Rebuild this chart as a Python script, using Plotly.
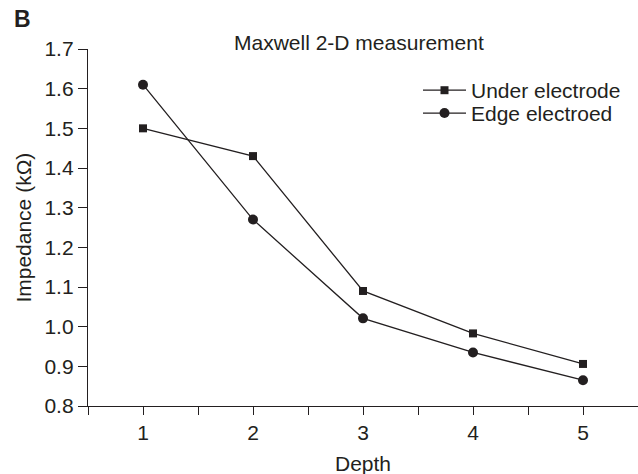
import plotly.graph_objects as go

depth = [1, 2, 3, 4, 5]
under_electrode = [1.50, 1.43, 1.09, 0.983, 0.906]
edge_electroed = [1.61, 1.27, 1.021, 0.935, 0.865]
y_ticks = [0.8, 0.9, 1.0, 1.1, 1.2, 1.3, 1.4, 1.5, 1.6, 1.7]
x_ticks = [0.5, 1, 1.5, 2, 2.5, 3, 3.5, 4, 4.5, 5, 5.5]
x_ticklabels = ["", "1", "", "2", "", "3", "", "4", "", "5", ""]

INK = "#231f20"
FONT = "Liberation Sans, Arial, sans-serif"
FS = 21

fig = go.Figure()
fig.add_trace(go.Scatter(
    x=depth, y=under_electrode, name="Under electrode", mode="lines+markers",
    line=dict(color=INK, width=1.3), marker=dict(symbol="square", size=8, color=INK),
    legend="legend"))
fig.add_trace(go.Scatter(
    x=depth, y=edge_electroed, name="Edge electroed", mode="lines+markers",
    line=dict(color=INK, width=1.3), marker=dict(symbol="circle", size=10, color=INK),
    legend="legend2"))

leg_common = dict(xanchor="left", yanchor="top", bgcolor="rgba(0,0,0,0)",
                  font=dict(size=FS), itemwidth=43)

fig.update_layout(
    width=638, height=474,
    margin=dict(l=88, r=0, t=49, b=68),
    plot_bgcolor="white", paper_bgcolor="white",
    font=dict(family=FONT, size=FS, color=INK),
    showlegend=True,
    legend=dict(x=0.6, y=0.941, **leg_common),
    legend2=dict(x=0.6, y=0.877, **leg_common),
    xaxis=dict(range=[0.5, 5.5], tickmode="array", tickvals=x_ticks, ticktext=x_ticklabels,
               ticks="outside", ticklen=8, tickwidth=1.3, tickcolor=INK,
               showline=True, linecolor=INK, linewidth=1.3, showgrid=False, zeroline=False),
    yaxis=dict(range=[0.8, 1.7], tickmode="array", tickvals=y_ticks,
               ticktext=[f"{v:.1f}" for v in y_ticks],
               ticks="outside", ticklen=9, tickwidth=1.3, tickcolor=INK,
               showline=True, linecolor=INK, linewidth=1.3, showgrid=False, zeroline=False),
    annotations=[
        dict(text="Maxwell 2-D measurement", xref="paper", yref="paper", x=0.493, y=1.017,
             xanchor="center", yanchor="middle", showarrow=False, font=dict(size=FS)),
        dict(text="<b>B</b>", xref="paper", yref="paper", x=-0.12, y=1.084,
             xanchor="center", yanchor="middle", showarrow=False, font=dict(size=23)),
        dict(text="Impedance (kΩ)", xref="paper", yref="paper", x=-0.118, y=0.5,
             xanchor="center", yanchor="middle", textangle=-90, showarrow=False, font=dict(size=FS)),
        dict(text="Depth", xref="paper", yref="paper", x=0.5, y=-0.16,
             xanchor="center", yanchor="middle", showarrow=False, font=dict(size=FS)),
    ],
)

fig.write_html("out.html")
